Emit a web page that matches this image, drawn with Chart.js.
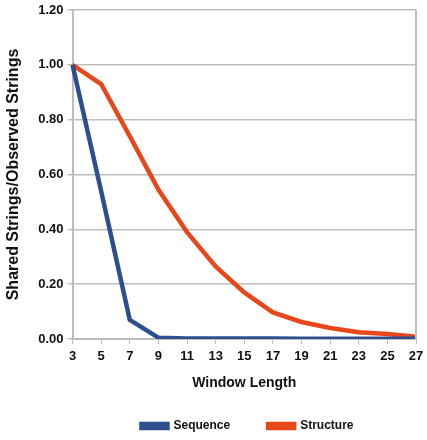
<!DOCTYPE html>
<html>
<head>
<meta charset="utf-8">
<script src="https://cdn.jsdelivr.net/npm/chart.js@4"></script>
<style>
  html, body { margin: 0; padding: 0; background: #fff; }
  #wrap { width: 427px; height: 440px; }
</style>
</head>
<body>
<div id="wrap"><canvas id="chart" width="427" height="440"></canvas></div>
<script>
// ====== Data ======
const windowLengths = ['3','5','7','9','11','13','15','17','19','21','23','25','27'];
const sequenceVals  = [1.00, 0.54, 0.07, 0.005, 0.002, 0.002, 0.002, 0.002, 0.001, 0.001, 0.001, 0.001, 0.001];
const structureVals = [1.00, 0.93, 0.74, 0.545, 0.39, 0.265, 0.17, 0.097, 0.062, 0.04, 0.025, 0.018, 0.008];
const yTicks = [0, 0.2, 0.4, 0.6, 0.8, 1.0, 1.2];

const FONT = 'Liberation Sans, Arial, sans-serif';
const gridGray = '#bdbdbd';
const LEGEND_SHIFT = 35;   // legend sits centred under the plot, not the canvas

const ctx = document.getElementById('chart').getContext('2d');
new Chart(ctx, {
  type: 'line',
  data: {
    labels: windowLengths,
    datasets: [
      { label: 'Sequence',  data: sequenceVals,  borderColor: '#2d4f8e', backgroundColor: '#2d4f8e',
        borderWidth: 4.5, pointRadius: 0, tension: 0 },
      { label: 'Structure', data: structureVals, borderColor: '#e8471c', backgroundColor: '#e8471c',
        borderWidth: 4.5, pointRadius: 0, tension: 0 }
    ]
  },
  options: {
    responsive: false,
    animation: false,
    layout: { padding: { top: 0, right: 6, left: 4, bottom: 0 } },
    scales: {
      x: {
        offset: false,
        afterFit: s => { s.paddingRight = 11; },
        grid: { display: true, drawOnChartArea: false, color: gridGray, tickLength: 5, lineWidth: 1 },
        border: { color: gridGray, width: 2 },
        ticks: { color: '#111', font: { family: FONT, size: 13, weight: 'bold' }, maxRotation: 0, autoSkip: false, padding: 5 },
        title: { display: true, text: 'Window Length', color: '#111',
                 font: { family: FONT, size: 14, weight: 'bold' }, padding: { top: 5, bottom: -9.4 } }
      },
      y: {
        min: 0, max: 1.2,
        afterFit: s => { s.paddingTop = 10; },
        afterBuildTicks: ax => { ax.ticks = yTicks.map(v => ({ value: v })); },
        grid: { color: gridGray, tickLength: 5, lineWidth: 1.5 },
        border: { color: gridGray, width: 2 },
        ticks: { color: '#111', font: { family: FONT, size: 13, weight: 'bold' },
                 callback: v => Number(v).toFixed(2), padding: 4 },
        title: { display: true, text: 'Shared Strings/Observed Strings', color: '#111',
                 font: { family: FONT, size: 16, weight: 'bold' }, padding: { top: 0, bottom: 11 } }
      }
    },
    plugins: {
      legend: {
        position: 'bottom',
        maxHeight: 58,
        labels: { boxWidth: 26, boxHeight: 4, padding: 38, color: '#111',
                  font: { family: FONT, size: 12, weight: 'bold' } }
      },
      tooltip: { enabled: false }
    }
  },
  plugins: [{
    id: 'tweaks',
    afterInit(c) {
      const lg = c.legend, orig = lg.draw;
      lg.draw = function (...args) {
        const g = this.ctx;
        g.save(); g.translate(LEGEND_SHIFT, 0);
        orig.apply(this, args);
        g.restore();
      };
    },
    afterDraw(c) {
      // right-hand frame line of the plot area
      const a = c.chartArea, g = c.ctx;
      g.save();
      g.strokeStyle = gridGray; g.lineWidth = 2;
      g.beginPath(); g.moveTo(a.right, a.top); g.lineTo(a.right, a.bottom); g.stroke();
      g.restore();
    }
  }]
});
</script>
</body>
</html>
